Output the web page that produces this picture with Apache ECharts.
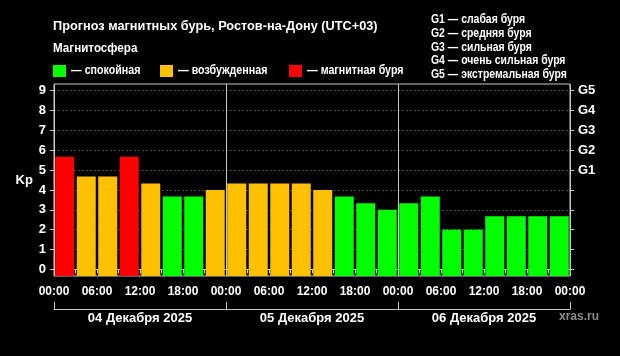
<!DOCTYPE html>
<html><head><meta charset="utf-8">
<script src="https://cdn.jsdelivr.net/npm/echarts@6/dist/echarts.min.js"></script>
<style>html,body{margin:0;padding:0;background:#000;}#c{width:620px;height:356px;}</style>
</head><body><div id="c"></div>
<script>
// ---- data ----
const titleText = 'Прогноз магнитных бурь, Ростов-на-Дону (UTC+03)';
const subtitleText = 'Магнитосфера';
const legendNames = ['— спокойная', '— возбужденная', '— магнитная буря'];
const levelColors = ['#00ff00', '#ffc000', '#ff0000'];
const levelThresholds = [4, 5];
const gScaleLines = ['G1 — слабая буря', 'G2 — средняя буря', 'G3 — сильная буря', 'G4 — очень сильная буря', 'G5 — экстремальная буря'];
const gValues = [5, 6, 7, 8, 9];
const gLabels = ['G1', 'G2', 'G3', 'G4', 'G5'];
const dayLabels = ['04 Декабря 2025', '05 Декабря 2025', '06 Декабря 2025'];
const hourTickLabels = ['00:00', '06:00', '12:00', '18:00'];
const slotHours = 3;
const kp = [5.67, 4.67, 4.67, 5.67, 4.33, 3.67, 3.67, 4.00,
            4.33, 4.33, 4.33, 4.33, 4.00, 3.67, 3.33, 3.00,
            3.33, 3.67, 2.00, 2.00, 2.67, 2.67, 2.67, 2.67];
const watermark = 'xras.ru';

// ---- layout ----
const FONT = '"Liberation Sans", Arial, sans-serif';
const gL = 54, gR = 570, gT = 84, gB = 276;
const yMin = -1 / 3, yMax = 28 / 3;
const totalHours = kp.length * slotHours;
const unit = (gB - gT) / (yMax - yMin);
const yPix = v => gB - (v - yMin) * unit;
const top1 = yPix(9), bot1 = yPix(0);

function colorFor(v) {
  let k = 0;
  levelThresholds.forEach(t => { if (v >= t) k++; });
  return levelColors[k];
}

function txt(x, y, text, font, fill, sx) {
  return {type: 'text', x: x, y: y, scaleX: sx || 1,
    style: {x: 0, y: 0, text: text, fill: fill || '#fff', font: font, verticalAlign: 'middle', textVerticalAlign: 'middle'}};
}

const axisCol = '#c8c8c8';
const graphics = [];
graphics.push(txt(53, 26, titleText, 'bold 13px ' + FONT, '#fff', 0.98));
graphics.push(txt(53, 49, subtitleText, 'bold 12px ' + FONT, '#fff', 0.97));
const legX = [53, 160, 289];
legendNames.forEach((n, i) => {
  graphics.push({type: 'rect', shape: {x: legX[i], y: 65, width: 13, height: 12}, style: {fill: levelColors[i]}});
  graphics.push(txt(legX[i] + 18, 71, n, 'bold 12px ' + FONT, '#fff', 0.89));
});
gScaleLines.forEach((t, i) => {
  graphics.push(txt(431, 20 + 13.6 * i, t, 'bold 12px ' + FONT, '#fff', 0.87));
});
graphics.push(txt(559, 317, watermark, 'bold 12px ' + FONT, '#8a8a8a', 1));

const chart = echarts.init(document.getElementById('c'));
chart.setOption({
  backgroundColor: '#000',
  animation: false,
  textStyle: {fontFamily: FONT},
  graphic: graphics,
  grid: [
    {left: gL, width: gR - gL, top: gT, height: gB - gT, show: true, borderColor: axisCol, borderWidth: 1, backgroundColor: 'transparent'},
    {left: gL, width: gR - gL, top: top1, height: bot1 - top1}
  ],
  xAxis: [
    {type: 'value', gridIndex: 0, position: 'bottom', min: 0, max: totalHours, interval: slotHours,
     axisLine: {show: true, lineStyle: {color: axisCol}},
     axisTick: {show: true, length: 4, lineStyle: {color: axisCol}},
     splitLine: {show: false},
     axisLabel: {show: true, color: '#fff', fontWeight: 'bold', fontSize: 12, margin: 10, showMinLabel: true, showMaxLabel: true,
       formatter: v => (v % 6 === 0) ? hourTickLabels[(v % 24) / 6] : ''}},
    {type: 'value', gridIndex: 1, position: 'bottom', min: 0, max: totalHours, show: false},
    {type: 'category', gridIndex: 0, position: 'bottom', offset: 33, data: dayLabels,
     axisLine: {show: true, lineStyle: {color: axisCol}},
     axisTick: {show: true, inside: true, length: 7, lineStyle: {color: axisCol}},
     axisLabel: {color: '#fff', fontWeight: 'bold', fontSize: 13, margin: 3},
     splitLine: {show: false}},
    {type: 'value', gridIndex: 0, position: 'top', min: 0, max: totalHours, interval: 24,
     axisLine: {show: false}, axisTick: {show: false}, axisLabel: {show: false},
     splitLine: {show: true, lineStyle: {color: axisCol, width: 1}}}
  ],
  yAxis: [
    {type: 'value', gridIndex: 0, position: 'left', min: yMin, max: yMax, startValue: yMin,
     axisLine: {show: false}, axisTick: {show: false}, axisLabel: {show: false}, splitLine: {show: false}},
    {type: 'value', gridIndex: 1, position: 'left', min: 0, max: 9, interval: 1,
     name: 'Kp', nameLocation: 'middle', nameRotate: 0, nameGap: 20,
     nameTextStyle: {color: '#fff', fontWeight: 'bold', fontSize: 13},
     axisLine: {show: false},
     axisTick: {show: true, length: 4, lineStyle: {color: axisCol}},
     axisLabel: {color: '#fff', fontWeight: 'bold', fontSize: 13, margin: 8},
     splitLine: {show: true, lineStyle: {color: '#4a4a4a', type: [2, 2], width: 1}}},
    {type: 'value', gridIndex: 1, position: 'right', min: 0, max: 9, interval: 1,
     axisLine: {show: false},
     axisTick: {show: true, length: 4, lineStyle: {color: axisCol}},
     axisLabel: {color: '#fff', fontWeight: 'bold', fontSize: 13, margin: 8,
       formatter: v => { const i = gValues.indexOf(v); return i >= 0 ? gLabels[i] : ''; }},
     splitLine: {show: false}}
  ],
  series: [{
    type: 'bar', xAxisIndex: 0, yAxisIndex: 0, barWidth: 19,
    data: kp.map((v, i) => ({value: [(i + 0.5) * slotHours, v], itemStyle: {color: colorFor(v)}})),
    silent: true
  }]
});
</script></body></html>
